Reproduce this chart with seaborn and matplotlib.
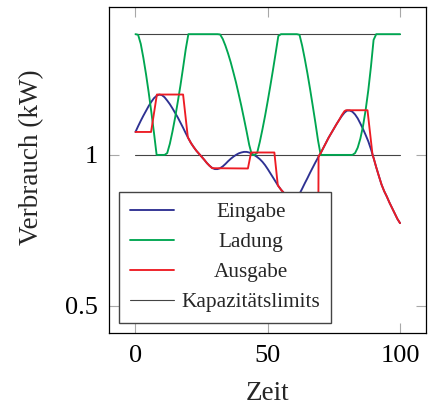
import matplotlib
matplotlib.use("Agg")
import matplotlib.pyplot as plt
import matplotlib.transforms as mtransforms
import seaborn as sns
import pandas as pd

# ---------------- data ----------------
zeit = list(range(101))
eingabe = [1.076, 1.095, 1.113, 1.130, 1.146, 1.162, 1.176, 1.188, 1.196, 1.200,
           1.198, 1.191, 1.180, 1.168, 1.154, 1.139, 1.124, 1.107, 1.090, 1.072,
           1.055, 1.039, 1.026, 1.014, 1.004, 0.994, 0.984, 0.973, 0.964, 0.957,
           0.953, 0.953, 0.956, 0.962, 0.970, 0.979, 0.987, 0.994, 1.000, 1.005,
           1.008, 1.010, 1.010, 1.008, 1.004, 0.999, 0.993, 0.986, 0.977, 0.966,
           0.953, 0.939, 0.925, 0.911, 0.897, 0.885, 0.875, 0.866, 0.858, 0.853,
           0.851, 0.857, 0.871, 0.888, 0.906, 0.923, 0.941, 0.958, 0.975, 0.991,
           1.006, 1.023, 1.040, 1.057, 1.072, 1.087, 1.102, 1.116, 1.129, 1.140,
           1.147, 1.147, 1.143, 1.134, 1.121, 1.104, 1.086, 1.066, 1.045, 1.019,
           0.990, 0.959, 0.930, 0.902, 0.880, 0.862, 0.842, 0.824, 0.806, 0.788,
           0.774]
ladung = [1.400, 1.398, 1.368, 1.321, 1.267, 1.207, 1.142, 1.073, 1.000, 1.000,
          1.000, 1.000, 1.006, 1.037, 1.078, 1.124, 1.176, 1.230, 1.289, 1.350,
          1.400, 1.400, 1.400, 1.400, 1.400, 1.400, 1.400, 1.400, 1.400, 1.400,
          1.400, 1.400, 1.399, 1.384, 1.362, 1.336, 1.307, 1.274, 1.240, 1.202,
          1.163, 1.121, 1.078, 1.033, 1.000, 1.000, 1.007, 1.043, 1.085, 1.130,
          1.179, 1.230, 1.283, 1.338, 1.394, 1.400, 1.400, 1.400, 1.400, 1.400,
          1.400, 1.400, 1.398, 1.362, 1.318, 1.270, 1.218, 1.163, 1.107, 1.048,
          1.000, 1.000, 1.000, 1.000, 1.000, 1.000, 1.000, 1.000, 1.000, 1.000,
          1.000, 1.000, 1.000, 1.006, 1.024, 1.054, 1.095, 1.149, 1.214, 1.292,
          1.381, 1.400, 1.400, 1.400, 1.400, 1.400, 1.400, 1.400, 1.400, 1.400,
          1.400]
ausgabe_zeit = [0, 5.9, 8.1, 18.0, 19.8, 20, 21, 22, 23, 24, 25, 26, 27, 28, 29,
                42.5, 43.7, 52.5, 53.8, 54, 55, 56, 57, 58, 69.0, 69.2,
                70, 71, 72, 73, 74, 75, 76, 77, 78, 79, 79.6, 87.7, 89.6,
                90, 91, 92, 93, 94, 95, 96, 97, 98, 99, 100]
ausgabe = [1.076, 1.076, 1.200, 1.200, 1.058, 1.055, 1.039, 1.026, 1.014, 1.004,
           0.994, 0.984, 0.973, 0.964, 0.956,
           0.955, 1.008, 1.008, 0.899, 0.897, 0.885, 0.875, 0.866, 0.500, 0.500, 0.995,
           1.006, 1.023, 1.040, 1.057, 1.072, 1.087, 1.102, 1.116, 1.132, 1.145,
           1.148, 1.148, 1.000,
           0.990, 0.959, 0.930, 0.902, 0.880, 0.862, 0.842, 0.824, 0.806, 0.788,
           0.774]
limit_zeit = [0, 100]
limit_oben = [1.4, 1.4]
limit_unten = [1.0, 1.0]

labels = ["Eingabe", "Ladung", "Ausgabe", "Kapazitätslimits"]
colors = ["#2E3192", "#00A651", "#ED1C24", "#444444"]

# ---------------- style ----------------
sns.set_style("white")
plt.rcParams["font.family"] = ["Liberation Serif", "DejaVu Serif"]

fig = plt.figure(figsize=(4.28, 4.08), dpi=100)
ax = fig.add_axes([109 / 428, 75 / 408, 317.5 / 428, 326 / 408])

df_in = pd.DataFrame({"Zeit": zeit, "Wert": eingabe})
df_lad = pd.DataFrame({"Zeit": zeit, "Wert": ladung})
df_out = pd.DataFrame({"Zeit": ausgabe_zeit, "Wert": ausgabe})
df_lim = pd.DataFrame({"Zeit": limit_zeit + limit_zeit,
                       "Wert": limit_oben + limit_unten,
                       "seg": [0, 0, 1, 1]})

sns.lineplot(data=df_lim, x="Zeit", y="Wert", units="seg", estimator=None,
             color=colors[3], lw=0.8, ax=ax, legend=False)
n0 = len(ax.lines)
sns.lineplot(data=df_in, x="Zeit", y="Wert", estimator=None, sort=False,
             color=colors[0], lw=1.35, ax=ax, legend=False)
sns.lineplot(data=df_lad, x="Zeit", y="Wert", estimator=None, sort=False,
             color=colors[1], lw=1.35, ax=ax, legend=False)
sns.lineplot(data=df_out, x="Zeit", y="Wert", estimator=None, sort=False,
             color=colors[2], lw=1.35, ax=ax, legend=False)

lines = ax.lines
handles = [lines[n0], lines[n0 + 1], lines[n0 + 2], lines[0]]

ax.set_xlim(-10, 110)
ax.set_ylim(0.41, 1.49)
ax.set_xticks([0, 50, 100])
ax.set_xticklabels(["0", "50", "100"])
ax.set_yticks([0.5, 1.0])
ax.set_yticklabels(["0.5", "1"])

ax.tick_params(axis="both", which="both", direction="in", length=7.5, width=0.8,
               color="#a8a8a8", labelsize=19, labelcolor="black",
               top=True, right=True, bottom=True, left=True)
ax.tick_params(axis="y", pad=8)
ax.tick_params(axis="x", pad=9)

for s in ax.spines.values():
    s.set_visible(True)
    s.set_color("black")
    s.set_linewidth(0.9)

ax.set_xlabel("Zeit", fontsize=19.5, labelpad=10)
ax.set_ylabel("Verbrauch (kW)", fontsize=19.5)
ax.yaxis.set_label_coords(-0.205, 0.54)

leg = ax.legend(handles, labels, loc="lower left", bbox_to_anchor=(0.032, 0.032),
                borderaxespad=0, fontsize=15.3, frameon=True, fancybox=False,
                edgecolor="#444444", facecolor="white", framealpha=1,
                handlelength=2.1, handletextpad=0.35, labelspacing=0.47,
                borderpad=0.5)
leg.get_frame().set_linewidth(1.0)

# center the legend labels in their column
fig.canvas.draw()
r = fig.canvas.get_renderer()
texts = leg.get_texts()
ws = [t.get_window_extent(r).width for t in texts]
mw = max(ws)
for t, w in zip(texts, ws):
    t.set_transform(t.get_transform() + mtransforms.Affine2D().translate((mw - w) / 2, 0))

fig.savefig("out.png", dpi=100)
